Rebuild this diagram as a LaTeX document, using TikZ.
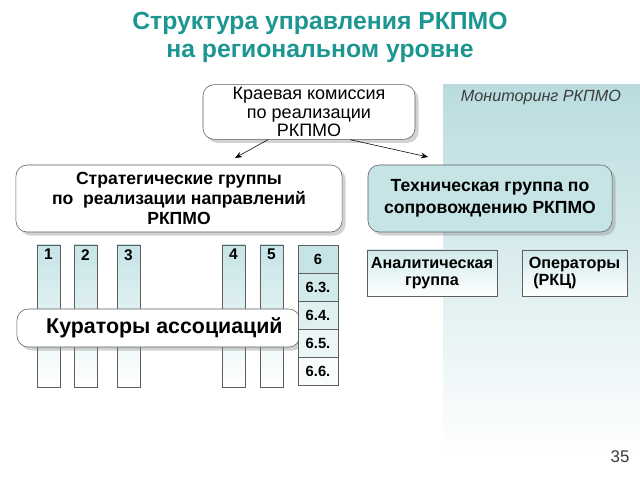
\documentclass[tikz,border=0pt]{standalone}
\usepackage{fontspec}
\setmainfont{Liberation Sans}
\usepackage{tikz}
\usetikzlibrary{arrows.meta, positioning, shadows}
\definecolor{rteal}{RGB}{28,150,145}
\definecolor{rpanel}{RGB}{186,220,223}
\definecolor{rfill}{RGB}{198,228,230}
\definecolor{rline}{RGB}{95,95,95}
\definecolor{rtext}{RGB}{60,60,60}

\begin{document}
\begin{tikzpicture}[
      x=0.025cm, y=-0.025cm,
      block/.style={draw=rline, fill=white, rounded corners=8pt,
                    align=center, inner sep=2pt,
                    drop shadow={shadow xshift=2.5pt, shadow yshift=-2.5pt, opacity=0.35}},
      tblock/.style={block, fill=rfill},
      small/.style={draw=rline, top color=rfill!80, bottom color=white,
                    minimum height=1.15cm, inner sep=2pt,
                    font=\fontsize{11.5}{12.5}\selectfont\bfseries},
      col/.style={draw=rline, top color=rfill, bottom color=white,
                  minimum width=0.575cm, minimum height=3.55cm, inner sep=0pt},
      cell/.style={draw=rline, minimum width=1cm, minimum height=0.7cm, inner sep=0pt,
                   font=\fontsize{10.5}{12}\selectfont\bfseries},
      arrow/.style={-{Stealth[length=5pt, width=4pt]}, thin, color=black},
    ]
    \useasboundingbox (0,0) rectangle (640,480);
    \fill[white] (0,0) rectangle (640,480);

    % Hintergrund Monitoring
    \shade[top color=rpanel, bottom color=white] (443,84) rectangle (640,455);

    \node[font=\fontsize{17.6}{20.5}\selectfont\bfseries, text=rteal, align=center]
      (title) at (320,37.5) {Структура управления РКПМО\\на региональном уровне};
    \node[font=\fontsize{11.5}{13}\selectfont\itshape, text=rtext] (mon) at (541,98) {Мониторинг РКПМО};

    \node[block, minimum width=5.3cm, minimum height=1.325cm,
          font=\fontsize{12.8}{13}\selectfont] (kom) at (309,112)
          {Краевая комиссия\\по реализации\\РКПМО};
    \node[block, minimum width=8.15cm, minimum height=1.675cm,
          font=\fontsize{12.5}{14}\selectfont\bfseries] (strat) at (179,198.5)
          {Стратегические группы\\по\ \ реализации направлений\\РКПМО};
    \node[tblock, minimum width=6.1cm, minimum height=1.675cm,
          font=\fontsize{12.5}{15.5}\selectfont\bfseries] (tech) at (490,198.5)
          {Техническая группа по\\сопровождению РКПМО};

    \coordinate (sEnd) at (235,158);
    \coordinate (tEnd) at (428,157);
    \draw[arrow] (kom.214) -- (sEnd);
    \draw[arrow] (kom.326) -- (tEnd);

    \node[small, minimum width=3.25cm, align=center] (anal) at (432,273) {Аналитическая\\группа};
    \node[small, minimum width=2.625cm, align=left] (oper) at (574.5,273) {Операторы\\\ (РКЦ)};

    % Направления
    \foreach \cx/\num in {48.5/1, 85.5/2, 128.5/3, 233.5/4, 271.5/5}
      \node[col, label={[anchor=north, inner sep=3pt, font=\fontsize{11}{12}\selectfont\bfseries]north:\num}]
        (c\num) at (\cx,316) {};

    \node[block, minimum width=7.075cm, minimum height=0.95cm,
          font=\fontsize{15.2}{16}\selectfont\bfseries] (kur) at (158.5,328) {\ \ Кураторы ассоциаций};

    \foreach \lbl [count=\i] in {6, 6.3., 6.4., 6.5., 6.6.} {
      \pgfmathsetmacro\shadeamt{100-22*(\i-1)}
      \node[cell, fill=rfill!\shadeamt!white] (c6-\i) at (318,{259+28*(\i-1)}) {\lbl};
    }

    \node[font=\fontsize{12}{14}\selectfont, text=rtext] (page) at (620,457) {35};
  \end{tikzpicture}
\end{document}
